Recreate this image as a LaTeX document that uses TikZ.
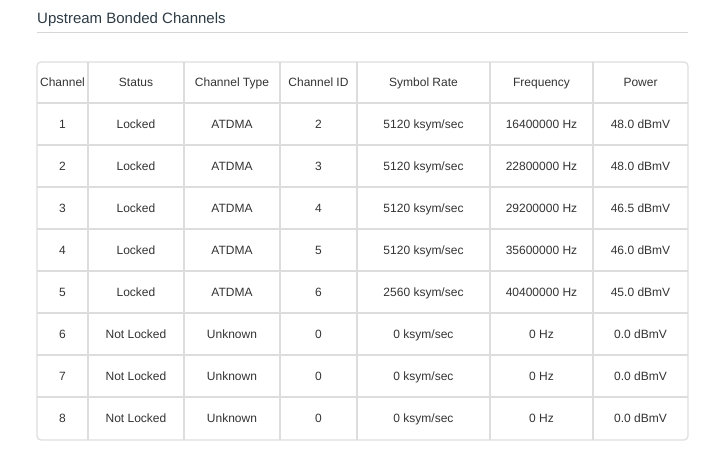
\documentclass[tikz,border=0pt]{standalone}
\usepackage{fontspec}
\setmainfont{Liberation Sans}
\usepackage{xcolor}
\usepackage{tikz}
\definecolor{txt}{HTML}{333333}
\definecolor{titletxt}{HTML}{2D3B45}
\definecolor{grid}{HTML}{DDDDDD}
\definecolor{rule}{HTML}{D6D6D6}

\begin{document}
\begin{tikzpicture}[x=1pt, y=-1pt,
    every node/.style={text=txt, font=\fontsize{12}{14}\selectfont, inner sep=0pt, text height=8.6pt, text depth=0pt},
    gridline/.style={draw=grid, line width=1.2pt}]
      \useasboundingbox (0,0) rectangle (712,455);

      % Titolo
      \node (title) at (37,18) [anchor=west, text=titletxt, font=\fontsize{15}{18}\selectfont, text height=10.7pt] {Upstream Bonded Channels};
      \draw [rule, line width=1pt] (37,32.5) -- (688,32.5);

      % Griglia della tabella
      \draw [gridline, rounded corners=4pt] (37,62) rectangle (688,440);
      \foreach \x in {88,184,280,357,490,593}
        \draw [gridline] (\x,62) -- (\x,440);
      \foreach \y in {103,145,187,229,271,313,355,397}
        \draw [gridline] (37,\y) -- (688,\y);

      % Intestazione
      \node (hCh) at (62.5,82.5) {Channel};
      \node (hSt) at (136,82.5) {Status};
      \node (hTy) at (232,82.5) {Channel Type};
      \node (hId) at (318.5,82.5) {Channel ID};
      \node (hSr) at (423.5,82.5) {Symbol Rate};
      \node (hFr) at (541.5,82.5) {Frequency};
      \node (hPw) at (640.5,82.5) {Power};

      % Righe
      \foreach \r/\st/\ty/\id/\sr/\fr/\pw [evaluate=\r as \y using 82.5+42*\r] in {
          1/Locked/ATDMA/2/5120/16400000/48.0,
          2/Locked/ATDMA/3/5120/22800000/48.0,
          3/Locked/ATDMA/4/5120/29200000/46.5,
          4/Locked/ATDMA/5/5120/35600000/46.0,
          5/Locked/ATDMA/6/2560/40400000/45.0,
          6/Not Locked/Unknown/0/0/0/0.0,
          7/Not Locked/Unknown/0/0/0/0.0,
          8/Not Locked/Unknown/0/0/0/0.0} {
        \node (ch\r) at (62.5,\y) {\r};
        \node (st\r) at (136,\y) {\st};
        \node (ty\r) at (232,\y) {\ty};
        \node (id\r) at (318.5,\y) {\id};
        \node (sr\r) at (423.5,\y) {\sr{} ksym/sec};
        \node (fr\r) at (541.5,\y) {\fr{} Hz};
        \node (pw\r) at (640.5,\y) {\pw{} dBmV};
      }
    \end{tikzpicture}
\end{document}
